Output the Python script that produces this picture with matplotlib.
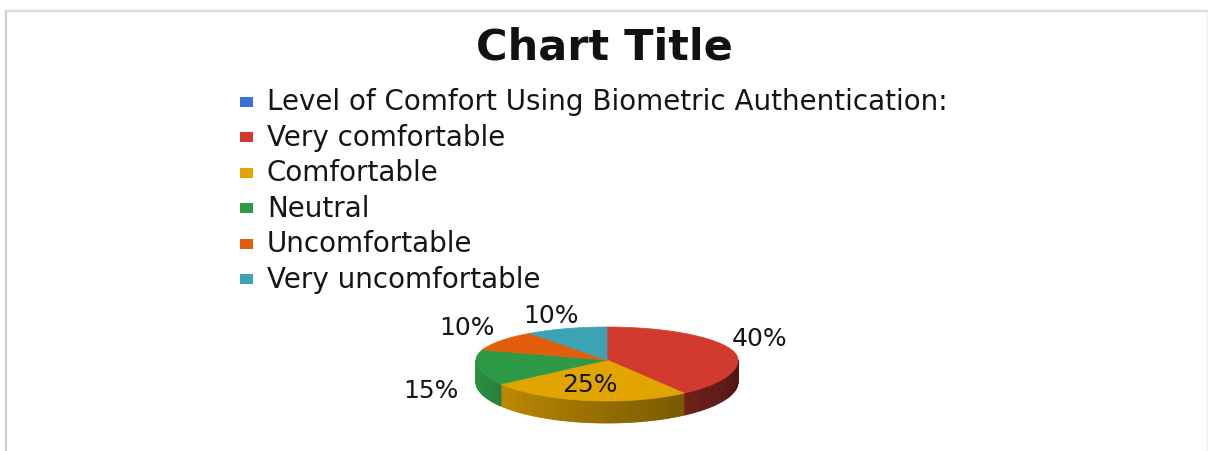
import numpy as np
import matplotlib
matplotlib.use("Agg")
import matplotlib.pyplot as plt
from matplotlib.patches import Polygon, Rectangle
from matplotlib.lines import Line2D
from matplotlib.colors import to_rgb

# survey answers (first row is the header line Excel keeps in the legend)
categories = [
    "Level of Comfort Using Biometric Authentication:",
    "Very comfortable",
    "Comfortable",
    "Neutral",
    "Uncomfortable",
    "Very uncomfortable",
]
values = [0, 40, 25, 15, 10, 10]
colors = ["#3b70d8", "#d23a2e", "#e2a500", "#2e9a48", "#e25e0c", "#3ca3b4"]

# where each percentage label sits (pixel coords), skipped for the header row
label_pos = [None, (760, 339), (590, 385), (431, 391), (467, 328), (551, 316)]

W, H = 1208, 452
cx, cy = 607, 361        # apex of the top face
ra = 131                 # horizontal radius
rb_back, rb_front = 33, 41   # tilted disc: near half looks taller
depth = 22               # thickness of the disc


def ell(theta):
    t = np.radians(theta)
    s = np.sin(t)
    rb = np.where(s >= 0, rb_back, rb_front)
    return cx + ra * np.cos(t), cy - rb * s


def shade(c, theta):
    # darker towards the right hand side of the front wall
    f = 0.95 - 0.6 * ((theta % 360) - 180) / 180
    return tuple(np.clip(np.array(to_rgb(c)) * f, 0, 1))


fig = plt.figure(figsize=(W / 100, H / 100), dpi=100)
ax = fig.add_axes([0, 0, 1, 1])
ax.set_xlim(0, W)
ax.set_ylim(H, 0)
ax.axis("off")

total = float(sum(values))
start = 90.0
wedges = []
for v, c in zip(values, colors):
    sweep = 360.0 * v / total
    wedges.append((start, start - sweep, c))
    start -= sweep

# side wall first (only the front half is visible)
for t1, t2, c in wedges:
    if t1 == t2:
        continue
    th = np.linspace(t1, t2, 120)
    for a0, a1 in zip(th[:-1], th[1:]):
        if np.sin(np.radians((a0 + a1) / 2)) >= 0:
            continue
        x0, y0 = ell(a0)
        x1, y1 = ell(a1)
        quad = [(x0, y0), (x1, y1), (x1, y1 + depth), (x0, y0 + depth)]
        col = shade(c, (a0 + a1) / 2)
        ax.add_patch(Polygon(quad, closed=True, facecolor=col, edgecolor=col, lw=0.6))

# top faces
for t1, t2, c in wedges:
    if t1 == t2:
        continue
    th = np.linspace(t1, t2, 200)
    xs, ys = ell(th)
    pts = [(cx, cy)] + list(zip(xs, ys))
    ax.add_patch(Polygon(pts, closed=True, facecolor=c, edgecolor=c, lw=0.5))

# percentage labels
for v, pos in zip(values, label_pos):
    if pos is None:
        continue
    ax.text(pos[0], pos[1], "{:.0f}%".format(100 * v / total), fontsize=18,
            ha="center", va="center", color="#151515")

# title
ax.text(604, 59, "Chart Title", fontsize=31, fontweight="bold",
        ha="center", va="baseline", color="#111111")

# legend drawn as a plain list
for i, (name, c) in enumerate(zip(categories, colors)):
    base = 110.5 + i * 35.5
    ax.add_patch(Rectangle((240, base - 13), 13, 10, facecolor=c, edgecolor="none"))
    ax.text(267, base, name, fontsize=20, ha="left", va="baseline", color="#151515")

# light chart border
ax.add_line(Line2D([5.5, W], [11.5, 11.5], color="#d9d9d9", lw=1.6))
ax.add_line(Line2D([5.5, 5.5], [11.5, H], color="#cfcfcf", lw=1.6))
ax.add_line(Line2D([W - 1, W - 1], [11.5, H], color="#eeeeee", lw=1.0))

fig.savefig("out.png", dpi=100)
